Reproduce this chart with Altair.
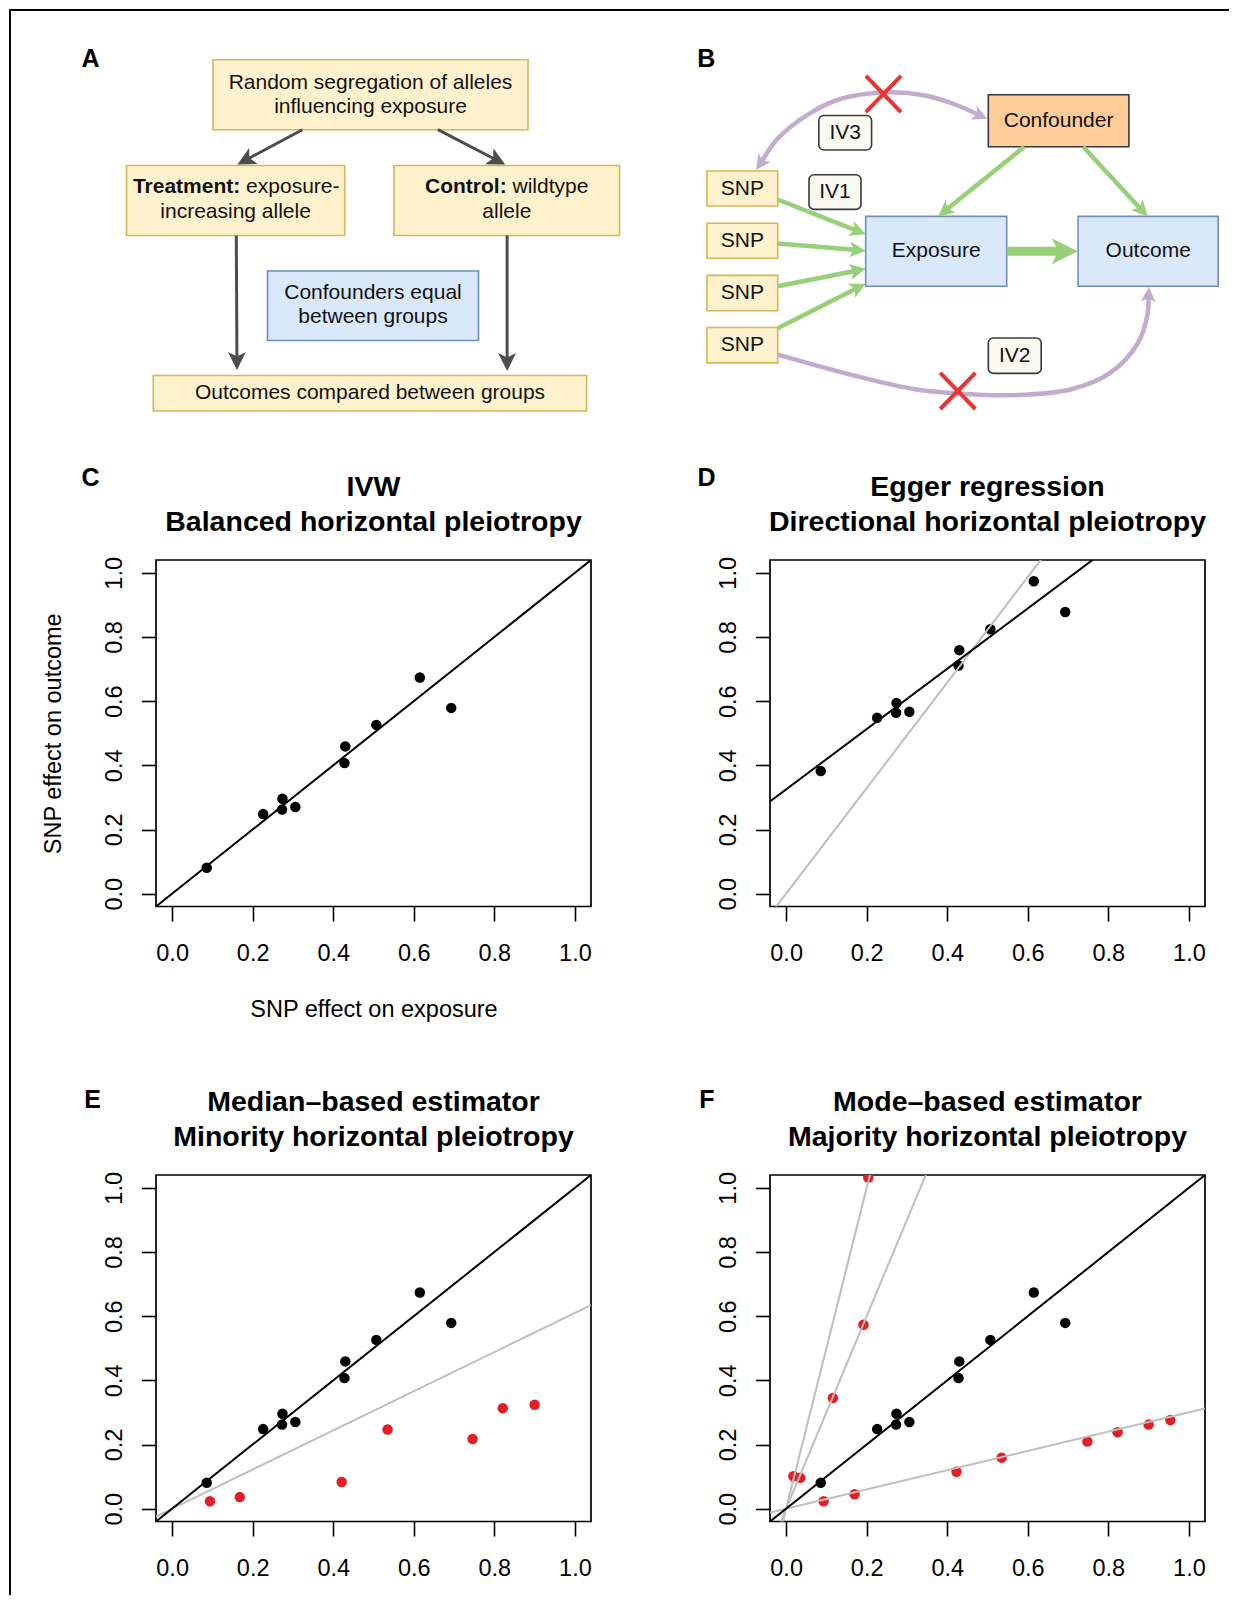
import math
import altair as alt
import pandas as pd

FONT = "Liberation Sans"

# ---------------------------------------------------------------- scatter data
snp_exposure = [0.086, 0.226, 0.274, 0.273, 0.306, 0.430, 0.428, 0.507, 0.615, 0.693]
snp_outcome_ivw = [0.081, 0.248, 0.296, 0.262, 0.270, 0.459, 0.407, 0.526, 0.674, 0.579]
snp_outcome_egger = [0.382, 0.548, 0.594, 0.564, 0.567, 0.759, 0.711, 0.824, 0.974, 0.878]
median_invalid_x = [0.094, 0.168, 0.421, 0.535, 0.746, 0.821, 0.900]
median_invalid_y = [0.023, 0.036, 0.083, 0.247, 0.217, 0.313, 0.324]
mode_invalid_x = [0.093, 0.170, 0.423, 0.535, 0.748, 0.823, 0.900, 0.954,
                  0.018, 0.204, 0.035, 0.116, 0.192]
mode_invalid_y = [0.023, 0.045, 0.115, 0.159, 0.209, 0.238, 0.262, 0.276,
                  0.101, 1.032, 0.096, 0.345, 0.573]

# fitted lines per panel: intercepts, slopes, colours
lines_C = {"a": [0.0], "b": [1.0], "c": ["black"]}
lines_D = {"a": [0.0, 0.325], "b": [1.645, 0.94], "c": ["grey", "black"]}
lines_E = {"a": [0.0, 0.0], "b": [0.61, 1.0], "c": ["grey", "black"]}
lines_F = {"a": [0.0, 0.0, 0.0, 0.0], "b": [5.0, 3.0, 0.30, 1.0],
           "c": ["grey", "grey", "grey", "black"]}

titles_C = ["IVW", "Balanced horizontal pleiotropy"]
titles_D = ["Egger regression", "Directional horizontal pleiotropy"]
titles_E = ["Median\u2013based estimator", "Minority horizontal pleiotropy"]
titles_F = ["Mode\u2013based estimator", "Majority horizontal pleiotropy"]

TICKS = [0.0, 0.2, 0.4, 0.6, 0.8, 1.0]
DOM = [-0.04, 1.04]
COLMAP = {"black": "#000000", "grey": "#BEBEBE", "red": "#E41E26"}

# ---------------------------------------------------------------- diagram data
box_x1 = [212, 125.5, 393, 266.5, 152.3, 987.3, 706, 706, 706, 706, 864.7, 1077.1]
box_x2 = [527, 343.7, 618.5, 477.5, 585.6, 1127.9, 776.7, 776.7, 776.7, 776.7, 1005.7, 1217.2]
box_y1 = [59.7, 165.5, 165.5, 271.0, 375.5, 94.7, 171.0, 223.3, 275.4, 327.5, 216.4, 216.4]
box_y2 = [129.7, 235.5, 235.5, 340.5, 411.0, 146.8, 206.0, 258.3, 310.8, 362.9, 286.3, 286.3]
box_kind = ["note", "note", "note", "blue", "note", "orange",
            "note", "note", "note", "note", "blue", "blue"]
KIND_FILL = {"note": "#FFF2CC", "blue": "#DAE8FC", "orange": "#FFCC99"}
KIND_STROKE = {"note": "#D6B656", "blue": "#6C8EBF", "orange": "#36393D"}

iv_label = ["IV3", "IV1", "IV2"]
iv_x1 = [817.8, 808.0, 987.3]
iv_x2 = [870.6, 860.0, 1040.2]
iv_y1 = [115.5, 174.8, 338.0]
iv_y2 = [150.0, 209.4, 373.4]

text_c = ["Random segregation of alleles", "influencing exposure", "increasing allele",
          "allele", "Confounders equal", "between groups",
          "Outcomes compared between groups", "Confounder", "SNP", "SNP", "SNP", "SNP",
          "Exposure", "Outcome"]
text_c_x = [369.5, 369.5, 234.6, 505.8, 372.0, 372.0, 369.0, 1057.6,
            741.3, 741.3, 741.3, 741.3, 935.2, 1147.2]
text_c_y = [82.8, 106.8, 212.0, 212.0, 292.5, 317.0, 393.0, 120.7,
            188.5, 240.8, 293.1, 345.2, 251.3, 251.3]
bold_parts = ["Treatment:", "Control:"]
bold_x = [239.25, 505.7]
bold_y = [187.0, 187.0]
plain_parts = ["exposure-", "wildtype"]
plain_x = [245.1, 511.5]
plain_y = [187.0, 187.0]

panel_letters = ["A", "B", "C", "D", "E", "F"]
letter_x = [89.5, 705.4, 89.5, 705.5, 91.5, 706.0]
letter_y = [59.0, 59.0, 478.0, 478.0, 1100.0, 1100.0]

# straight arrows: start -> tip
grey_x0 = [301.3, 436.9, 235.3, 506.1]
grey_y0 = [129.7, 129.7, 235.5, 235.5]
grey_x1 = [236.5, 504.2, 236.0, 506.1]
grey_y1 = [164.5, 164.5, 370.0, 371.0]
green_x0 = [776.7, 776.7, 776.7, 776.7, 1023.3, 1082.1]
green_y0 = [199.5, 243.4, 286.3, 328.2, 146.8, 146.8]
green_x1 = [864.7, 864.7, 864.7, 864.7, 937.2, 1146.7]
green_y1 = [234.2, 250.7, 268.8, 283.7, 216.4, 216.4]
thick_x0, thick_y0, thick_x1, thick_y1 = [1005.7], [251.3], [1076.8], [251.3]

# pleiotropic paths (purple)
top_path_x = [755.1, 776.7, 808.0, 839.3, 882.4, 925.5, 956.8, 986.2]
top_path_y = [169.9, 138.5, 113.8, 99.0, 92.4, 95.7, 105.5, 118.7]
bottom_path_x = [776.7, 855.0, 913.7, 956.8, 1011.6, 1070.4, 1109.5, 1136.9, 1146.7, 1147.9]
bottom_path_y = [354.6, 376.0, 389.2, 393.5, 395.2, 389.2, 372.7, 343.0, 313.4, 286.9]

cross_x = [882.4, 956.8]
cross_y = [94.0, 390.9]

GREY_ARROW = "#4D4D4D"
GREEN = "#97D077"
PURPLE = "#C3ABD0"
CROSS = "#EA3333"
ARROW_SHAPE = "M0,0L0.5,1L0,0.75L-0.5,1Z"


def angle_of(dx, dy):
    return (math.degrees(math.atan2(dx, -dy)) + 360.0) % 360.0


def unit(dx, dy):
    n = math.hypot(dx, dy)
    return dx / n, dy / n


rule_rows, head_rows = [], []


def add_arrows(x0s, y0s, x1s, y1s, col, width, head_len):
    for x0, y0, x1, y1 in zip(x0s, y0s, x1s, y1s):
        ux, uy = unit(x1 - x0, y1 - y0)
        rule_rows.append({"x0": x0, "y0": y0, "x1": x1 - ux * 0.7 * head_len,
                          "y1": y1 - uy * 0.7 * head_len, "col": col, "w": width})
        head_rows.append({"x": x1, "y": y1, "ang": angle_of(x1 - x0, y1 - y0),
                          "sz": 4 * head_len ** 2, "col": col})


add_arrows(grey_x0, grey_y0, grey_x1, grey_y1, GREY_ARROW, 3.0, 18)
add_arrows(green_x0, green_y0, green_x1, green_y1, GREEN, 4.5, 16)
add_arrows(thick_x0, thick_y0, thick_x1, thick_y1, GREEN, 9.0, 26)

# frame of the figure
rule_rows.append({"x0": 8, "y0": 10.0, "x1": 1228, "y1": 10.0, "col": "#000000", "w": 2})
rule_rows.append({"x0": 9, "y0": 10.0, "x1": 9, "y1": 1595, "col": "#000000", "w": 2})

# curves with arrow heads
curve_rows = []
PH_LEN = 15


def add_curve(cid, xs, ys, head_start, head_end):
    xs, ys = list(xs), list(ys)
    if head_start:
        dx, dy = xs[0] - xs[1], ys[0] - ys[1]
        head_rows.append({"x": xs[0], "y": ys[0], "ang": angle_of(dx, dy),
                          "sz": 4 * PH_LEN ** 2, "col": PURPLE})
        ux, uy = unit(dx, dy)
        xs[0] -= ux * 0.7 * PH_LEN
        ys[0] -= uy * 0.7 * PH_LEN
    if head_end:
        dx, dy = xs[-1] - xs[-2], ys[-1] - ys[-2]
        head_rows.append({"x": xs[-1], "y": ys[-1], "ang": angle_of(dx, dy),
                          "sz": 4 * PH_LEN ** 2, "col": PURPLE})
        ux, uy = unit(dx, dy)
        xs[-1] -= ux * 0.7 * PH_LEN
        ys[-1] -= uy * 0.7 * PH_LEN
    for i, (x, y) in enumerate(zip(xs, ys)):
        curve_rows.append({"cid": cid, "i": i, "x": x, "y": y})


add_curve("top", top_path_x, top_path_y, True, True)
add_curve("bottom", bottom_path_x, bottom_path_y, False, True)

cross_rows = []
for cx, cy in zip(cross_x, cross_y):
    cross_rows.append({"x0": cx - 17.6, "y0": cy - 18.1, "x1": cx + 17.6, "y1": cy + 18.1})
    cross_rows.append({"x0": cx - 17.6, "y0": cy + 18.1, "x1": cx + 17.6, "y1": cy - 18.1})

# ---------------------------------------------------------------- diagram chart
DIAG_W, DIAG_H = 146.3, 552.0
XS = alt.Scale(domain=[8, 8 + DIAG_W], nice=False, zero=False)
YS = alt.Scale(domain=[8, 8 + DIAG_H], nice=False, zero=False, reverse=True)


def ex(f):
    return alt.X(f, scale=XS, axis=None)


def ey(f):
    return alt.Y(f, scale=YS, axis=None)


boxes = pd.DataFrame({"x1": box_x1, "x2": box_x2, "y1": box_y1, "y2": box_y2,
                      "fill": [KIND_FILL[k] for k in box_kind],
                      "stroke": [KIND_STROKE[k] for k in box_kind]})
box_layer = alt.Chart(boxes).mark_rect(strokeWidth=1.6).encode(
    x=ex("x1:Q"), x2="x2:Q", y=ey("y1:Q"), y2="y2:Q",
    fill=alt.Fill("fill:N", scale=None), stroke=alt.Stroke("stroke:N", scale=None))

ivs = pd.DataFrame({"x1": iv_x1, "x2": iv_x2, "y1": iv_y1, "y2": iv_y2, "t": iv_label,
                    "cx": [(a + b) / 2 for a, b in zip(iv_x1, iv_x2)],
                    "cy": [(a + b) / 2 for a, b in zip(iv_y1, iv_y2)]})
iv_layer = alt.Chart(ivs).mark_rect(cornerRadius=5, fill="#F9F8F1", stroke="#36393D",
                                    strokeWidth=1.6).encode(
    x=ex("x1:Q"), x2="x2:Q", y=ey("y1:Q"), y2="y2:Q")
iv_text = alt.Chart(ivs).mark_text(font=FONT, fontSize=21, color="#111111",
                                   baseline="middle", align="center").encode(
    x=ex("cx:Q"), y=ey("cy:Q"), text="t:N")

rule_layer = alt.Chart(pd.DataFrame(rule_rows)).mark_rule(strokeCap="butt").encode(
    x=ex("x0:Q"), y=ey("y0:Q"), x2="x1:Q", y2="y1:Q",
    color=alt.Color("col:N", scale=None), strokeWidth=alt.StrokeWidth("w:Q", scale=None))

curve_layer = alt.Chart(pd.DataFrame(curve_rows)).mark_line(
    interpolate="catmull-rom", strokeWidth=4.5, color=PURPLE).encode(
    x=ex("x:Q"), y=ey("y:Q"), detail="cid:N", order="i:Q")

cross_layer = alt.Chart(pd.DataFrame(cross_rows)).mark_rule(
    color=CROSS, strokeWidth=4, strokeCap="butt").encode(
    x=ex("x0:Q"), y=ey("y0:Q"), x2="x1:Q", y2="y1:Q")

head_layer = alt.Chart(pd.DataFrame(head_rows)).mark_point(
    shape=ARROW_SHAPE, filled=True, opacity=1, strokeWidth=0).encode(
    x=ex("x:Q"), y=ey("y:Q"), angle=alt.Angle("ang:Q", scale=None),
    size=alt.Size("sz:Q", scale=None), color=alt.Color("col:N", scale=None))

tc = pd.DataFrame({"t": text_c, "x": text_c_x, "y": text_c_y})
text_layer = alt.Chart(tc).mark_text(font=FONT, fontSize=21, color="#111111",
                                     baseline="middle", align="center").encode(
    x=ex("x:Q"), y=ey("y:Q"), text="t:N")
tb = pd.DataFrame({"t": bold_parts, "x": bold_x, "y": bold_y})
bold_layer = alt.Chart(tb).mark_text(font=FONT, fontSize=21, fontWeight="bold",
                                     color="#111111", baseline="middle", align="right").encode(
    x=ex("x:Q"), y=ey("y:Q"), text="t:N")
tp = pd.DataFrame({"t": plain_parts, "x": plain_x, "y": plain_y})
plain_layer = alt.Chart(tp).mark_text(font=FONT, fontSize=21, color="#111111",
                                      baseline="middle", align="left").encode(
    x=ex("x:Q"), y=ey("y:Q"), text="t:N")
tl = pd.DataFrame({"t": panel_letters, "x": letter_x, "y": letter_y})
letter_layer = alt.Chart(tl).mark_text(font=FONT, fontSize=25, fontWeight="bold",
                                       color="#000000", baseline="middle", align="center").encode(
    x=ex("x:Q"), y=ey("y:Q"), text="t:N")

diagram = alt.layer(box_layer, iv_layer, curve_layer, rule_layer, cross_layer, head_layer,
                    text_layer, bold_layer, plain_layer, iv_text, letter_layer).properties(
    width=DIAG_W, height=DIAG_H)

# ---------------------------------------------------------------- scatter panels
PW, PH = 435, 346.5


def scatter_panel(px, py, pcol, lines, title_lines, axis_titles):
    sx = alt.Scale(domain=DOM, nice=False, zero=False)
    sy = alt.Scale(domain=DOM, nice=False, zero=False)
    common = dict(values=TICKS, format=".1f", domain=False, grid=False,
                  tickSize=14.5, tickWidth=1.6, tickColor="black",
                  labelFont=FONT, labelFontSize=23.5, labelColor="black",
                  labelFlush=False, labelOverlap=False, labelPadding=20)
    xax = dict(common, labelAlign="center", labelBaseline="top")
    yax = dict(common, labelAngle=270, labelAlign="center", labelBaseline="alphabetic")
    if axis_titles:
        tt = dict(titleFont=FONT, titleFontSize=23.5, titleFontWeight="normal",
                  titleColor="black", titleAlign="center", titleBaseline="middle")
        xax.update(tt, titleX=PW / 2, titleY=102.5)
        yax.update(tt, titleX=-102.8, titleY=PH / 2, titleAngle=270)
        xt, yt = "SNP effect on exposure", "SNP effect on outcome"
    else:
        xt, yt = None, None
    pts = pd.DataFrame({"x": px, "y": py, "col": [COLMAP[c] for c in pcol]})
    ln = pd.DataFrame({
        "x0": [DOM[0]] * len(lines["a"]),
        "y0": [a + b * DOM[0] for a, b in zip(lines["a"], lines["b"])],
        "x1": [DOM[1]] * len(lines["a"]),
        "y1": [a + b * DOM[1] for a, b in zip(lines["a"], lines["b"])],
        "col": [COLMAP[c] for c in lines["c"]]})
    p_layer = alt.Chart(pts).mark_circle(size=110, opacity=1, clip=True).encode(
        x=alt.X("x:Q", scale=sx, axis=alt.Axis(**xax), title=xt),
        y=alt.Y("y:Q", scale=sy, axis=alt.Axis(**yax), title=yt),
        color=alt.Color("col:N", scale=None))
    l_layer = alt.Chart(ln).mark_rule(clip=True, strokeWidth=2).encode(
        x=alt.X("x0:Q", scale=sx, axis=alt.Axis(**xax), title=xt),
        y=alt.Y("y0:Q", scale=sy, axis=alt.Axis(**yax), title=yt),
        x2="x1:Q", y2="y1:Q", color=alt.Color("col:N", scale=None))
    t1 = alt.Chart(pd.DataFrame({"t": [title_lines[0]]})).mark_text(
        font=FONT, fontSize=28.5, fontWeight="bold", color="black",
        baseline="middle", align="center").encode(
        text="t:N", x=alt.value(PW / 2), y=alt.value(-73.5))
    t2 = alt.Chart(pd.DataFrame({"t": [title_lines[1]]})).mark_text(
        font=FONT, fontSize=28.5, fontWeight="bold", color="black",
        baseline="middle", align="center").encode(
        text="t:N", x=alt.value(PW / 2), y=alt.value(-38.5))
    return alt.layer(p_layer, l_layer, t1, t2).properties(
        width=PW, height=PH, view=alt.ViewBackground(stroke="black", strokeWidth=1.7))


n_black = len(snp_exposure)
panel_C = scatter_panel(snp_exposure, snp_outcome_ivw, ["black"] * n_black,
                        lines_C, titles_C, True)
panel_D = scatter_panel(snp_exposure, snp_outcome_egger, ["black"] * n_black,
                        lines_D, titles_D, False)
panel_E = scatter_panel(snp_exposure + median_invalid_x, snp_outcome_ivw + median_invalid_y,
                        ["black"] * n_black + ["red"] * len(median_invalid_x),
                        lines_E, titles_E, False)
panel_F = scatter_panel(snp_exposure + mode_invalid_x, snp_outcome_ivw + mode_invalid_y,
                        ["black"] * n_black + ["red"] * len(mode_invalid_x),
                        lines_F, titles_F, False)

BLANK = pd.DataFrame({"b": [0]})


def blank(w, h):
    return alt.Chart(BLANK).mark_point(opacity=0, size=0, strokeWidth=0).properties(
        width=w, height=h)


cells = [
    diagram, blank(1, 1), blank(1, 1), blank(1, 1),
    blank(146.3, 1), panel_C, blank(179, 1), panel_D,
    blank(1, 267.8), blank(1, 1), blank(1, 1), blank(1, 1),
    blank(1, 1), panel_E, blank(1, 1), panel_F,
]

chart = alt.concat(*cells, columns=4, spacing=0, bounds="flush", align="each").properties(
    padding=0, background="white").configure_view(strokeWidth=0)

chart.save("out.html", embed_options={"renderer": "svg", "actions": False})
